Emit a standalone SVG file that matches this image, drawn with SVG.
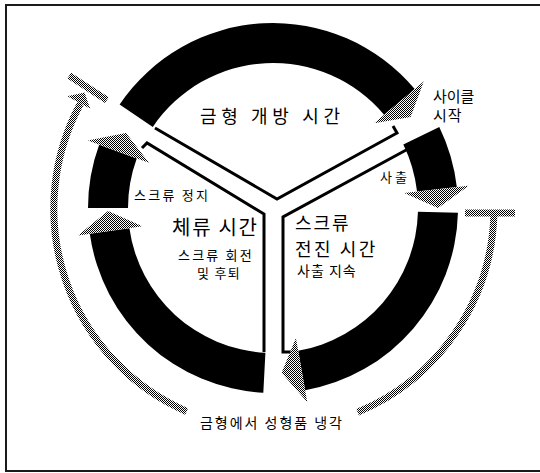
<svg xmlns="http://www.w3.org/2000/svg" width="540" height="473" viewBox="0 0 540 473">
<defs>
<pattern id="dither" width="2" height="2" patternUnits="userSpaceOnUse">
<rect width="2" height="2" fill="#ffffff"/>
<rect width="1" height="1" fill="#000000"/>
<rect x="1" y="1" width="1" height="1" fill="#000000"/>
</pattern>
</defs>
<style>
.seg{fill:#000000;stroke:none}
.head{fill:url(#dither);stroke:none}
.border{fill:none;stroke:#000000;stroke-width:3;stroke-linejoin:miter}
.gray{fill:none;stroke:url(#dither);stroke-width:7}
.bar{fill:none;stroke:url(#dither);stroke-width:7}
.frame{fill:none;stroke:#1a1a1a;stroke-width:2}
text{font-family:"Noto Sans CJK KR","Liberation Sans",sans-serif;fill:#000000}
.big{font-size:20px}
.big18{font-size:18px}
.mid{font-size:18px}
.sm15{font-size:15px}
.sm{font-size:14px}
.xs{font-size:13px}
</style>
<rect width="540" height="473" fill="#ffffff"/>
<path class="frame" d="M545,5 L6,5 L6,471 L545,471"/>

<g id="mold-open">
<path class="seg" d="M119.63,104.55 A185,185 0 0 1 414.71,89.09 L384.07,114.79 A145,145 0 0 0 152.79,126.92 Z"/>
<polyline class="border" points="155,128 277,199 397,133 393,126"/>
<text class="mid" x="200" y="123" textLength="140">금형 개방 시간</text>
</g>

<g id="inject">
<path class="seg" d="M439.28,126.90 A185,185 0 0 1 456.82,187.06 L417.07,191.59 A145,145 0 0 0 403.33,144.43 Z"/>
<text class="xs" x="380" y="182" textLength="27">사출</text>
</g>

<g id="screw-forward">
<path class="seg" d="M457.94,212.84 A185,185 0 0 1 305.12,390.19 L298.18,350.80 A145,145 0 0 0 417.95,211.80 Z"/>
<polyline class="border" points="408,149 283,217 283,352 298,352"/>
<text><tspan class="big18" x="295" y="230" letter-spacing="2">스크류</tspan><tspan class="big18" x="295" y="256" letter-spacing="2.5">전진 시간</tspan><tspan class="sm" x="297" y="276" letter-spacing="1">사출 지속</tspan></text>
</g>

<g id="dwell">
<path class="seg" d="M263.32,392.75 A185,185 0 0 1 89.80,233.75 L129.41,228.18 A145,145 0 0 0 265.41,352.80 Z"/>
<polyline class="border" points="142,148 147,143 264,214 264,352"/>
<text class="big" x="172" y="235" textLength="85">체류 시간</text>
<text class="xs"><tspan x="178" y="260" letter-spacing="2.2">스크류 회전</tspan><tspan x="197" y="278" letter-spacing="1.3">및 후퇴</tspan></text>
</g>

<g id="screw-stop">
<path class="seg" d="M88,208 A185,185 0 0 1 99.16,144.73 L136.74,158.41 A145,145 0 0 0 128,208 Z"/>
<text class="xs" x="134" y="200" textLength="74">스크류 정지</text>
</g>

<g id="cycle-start">
<text class="sm15"><tspan x="433" y="102">사이클</tspan><tspan x="433" y="121" letter-spacing="1">시작</tspan></text>
</g>

<g id="cooling">
<text class="sm" x="200" y="428" textLength="142">금형에서 성형품 냉각</text>
</g>

<g id="connectors">
<polygon class="head" points="423.90,81.37 374.11,123.15 410.59,116.94"/>
<polygon class="head" points="468.74,185.70 404.16,193.06 438,208"/>
<polygon class="head" points="307.21,402.01 295.92,337.99 281.64,372.77"/>
<polygon class="head" points="77.92,235.42 142.28,226.37 108.03,210.88"/>
<polygon class="head" points="87.88,140.62 148.96,162.85 125.98,133.09"/>
<path class="gray" d="M186.65,411.43 A221,221 0 0 1 80.5,103.5"/>
<polygon class="head" points="67.36,96.34 90.21,108.75 84.57,92.53"/>
<line class="bar" x1="106.94" y1="100.16" x2="69.20" y2="75.65"/>
<line class="bar" x1="465" y1="213" x2="515" y2="213"/>
<path class="gray" d="M493.94,213 A221,221 0 0 1 357.57,412.18"/>
</g>
</svg>
